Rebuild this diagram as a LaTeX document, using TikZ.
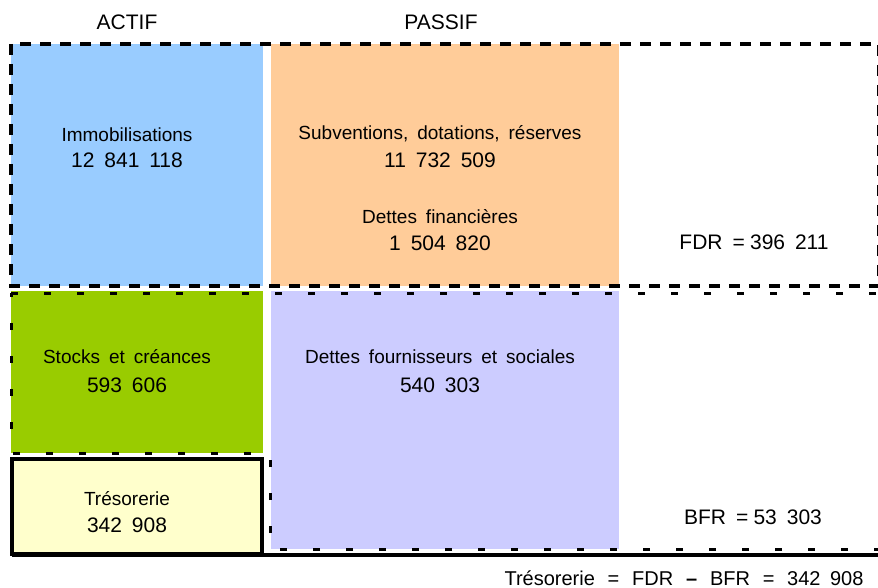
\documentclass[tikz,border=0pt]{standalone}
\usepackage{fontspec}
\setmainfont{Liberation Sans}[WordSpace=1.7]
\usepackage{xcolor}
\usetikzlibrary{calc}
\definecolor{immoblue}{HTML}{99CCFF}
\definecolor{fondsorange}{HTML}{FFCC99}
\definecolor{stockgreen}{HTML}{99CC00}
\definecolor{dettepurple}{HTML}{CCCCFF}
\definecolor{tresoyellow}{HTML}{FFFFCC}
\tikzset{
    bigdash/.style={line width=4pt, dash pattern=on 11pt off 9pt},
    smalldash/.style={line width=3pt, dash pattern=on 7pt off 26pt},
    lbl/.style={anchor=base, inner sep=0pt, font=\fontsize{19}{22}\selectfont},
    num/.style={anchor=base, inner sep=0pt, font=\fontsize{21}{25}\selectfont}
}

\begin{document}
\begin{tikzpicture}[x=1pt,y=-1pt]
\useasboundingbox (0,0) rectangle (878,588);
% blocs de couleur
\fill[immoblue] (11,44) rectangle (263,286);
\fill[fondsorange] (271,44) rectangle (619,286);
\fill[stockgreen] (11,291) rectangle (263,453);
\fill[dettepurple] (271,291) rectangle (619,549);
% cadres en pointilles
\draw[bigdash] (11,44) rectangle (879,286);
\draw[smalldash] (11,293) -- (879,293) -- (879,549) -- (270,549) -- (270,453) -- (11,453) -- cycle;
\draw[line width=3.5pt, fill=tresoyellow] (12,459) rectangle (262,554);
\draw[line width=4pt] (12,555) -- (878,555);
\foreach \x/\y/\p/\s/\labeltext in {127/30/actif/num/{ACTIF}, 441/30/passif/num/{PASSIF},
    127/142/immo/lbl/{Immobilisations}, 127/168/immoval/num/{12 841 118},
    440/140/subv/lbl/{Subventions, dotations, réserves}, 440/168/subvval/num/{11 732 509},
    440/223/dfin/lbl/{Dettes financières}, 440/251/dfinval/num/{1 504 820},
    754/250/fdr/num/{FDR =\hspace{.25em}396 211},
    127/363/stocks/lbl/{Stocks et créances}, 127/392/stocksval/num/{593 606},
    440/363/dfour/lbl/{Dettes fournisseurs et sociales}, 440/392/dfourval/num/{540 303},
    127/505/treso/lbl/{Trésorerie}, 127/532/tresoval/num/{342 908},
    753/524/bfr/num/{BFR =\hspace{.25em}53 303}}{
    \node[\s] (\p) at (\x,\y) {\labeltext};
}
\node[anchor=base, inner sep=0pt, font=\fontsize{20}{24}\selectfont] (egalite) at (684,585)
    {Trésorerie \,=\, FDR \,\textbf{–}\, BFR \,=\, 342 908};
\end{tikzpicture}
\end{document}
